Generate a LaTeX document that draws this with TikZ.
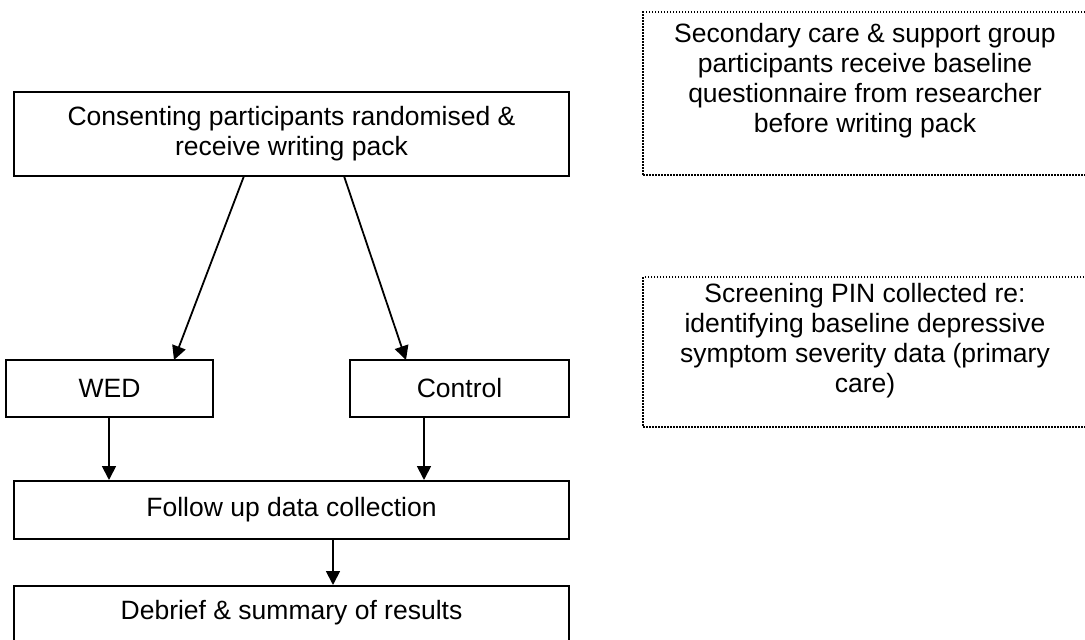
\documentclass[tikz,border=0pt]{standalone}
\usepackage{fontspec}
\setmainfont{Liberation Sans}
\usetikzlibrary{arrows.meta}
\begin{document}
\begin{tikzpicture}[x=1pt,y=-1pt,
  every node/.style={font=\fontsize{26.5}{30}\selectfont},
  solidbox/.style={draw, line width=2pt, inner sep=0pt, align=center},
  dotbox/.style={draw, line width=1.8pt, dash pattern=on 1.5pt off 1.5pt, inner sep=0pt},
  plain/.style={inner sep=0pt, align=center},
  arr/.style={line width=1.8pt, -{Triangle[length=14pt,width=14pt]}}]
\useasboundingbox (0,0) rectangle (1085,640);
\clip (0,0) rectangle (1085,640);
% left flow
\node[solidbox, minimum width=555pt, minimum height=84pt] (top) at (291.5,134)
  {Consenting participants randomised \&\\receive writing pack};
\node[solidbox, minimum width=207pt, minimum height=57pt] (wed) at (109.5,388.5) {WED};
\node[solidbox, minimum width=219pt, minimum height=57pt] (ctrl) at (459.5,388.5) {Control};
\node[solidbox, minimum width=555pt, minimum height=58pt] (follow) at (291.5,510) {Follow up data collection};
\node[solidbox, minimum width=555pt, minimum height=70pt] (debrief) at (291.5,621) {};
\node[plain] (debrieftxt) at (291.5,613) {Debrief \& summary of results};
% arrows
\coordinate (tl) at (244,176);
\coordinate (tr) at (344,176);
\coordinate (wl) at (174,360);
\coordinate (cr) at (406,360);
\draw[arr] (tl) -- (wl);
\draw[arr] (tr) -- (cr);
\draw[arr] (wed.south -| 109,0) -- (follow.north -| 109,0);
\draw[arr] (ctrl.south -| 424,0) -- (follow.north -| 424,0);
\draw[arr] (follow.south -| 333,0) -- (debrief.north -| 333,0);
% right dotted boxes
\node[dotbox, minimum width=450pt, minimum height=163pt] (sec) at (868,93.5) {};
\node[plain, anchor=north] (sectxt) at (865,23.5)
  {Secondary care \& support group\\participants receive baseline\\questionnaire from researcher\\before writing pack};
\node[dotbox, minimum width=450pt, minimum height=150pt] (scr) at (868,352) {};
\node[plain, anchor=north] (scrtxt) at (865,283.5)
  {Screening PIN collected re:\\identifying baseline depressive\\symptom severity data (primary\\care)};
\end{tikzpicture}
\end{document}
